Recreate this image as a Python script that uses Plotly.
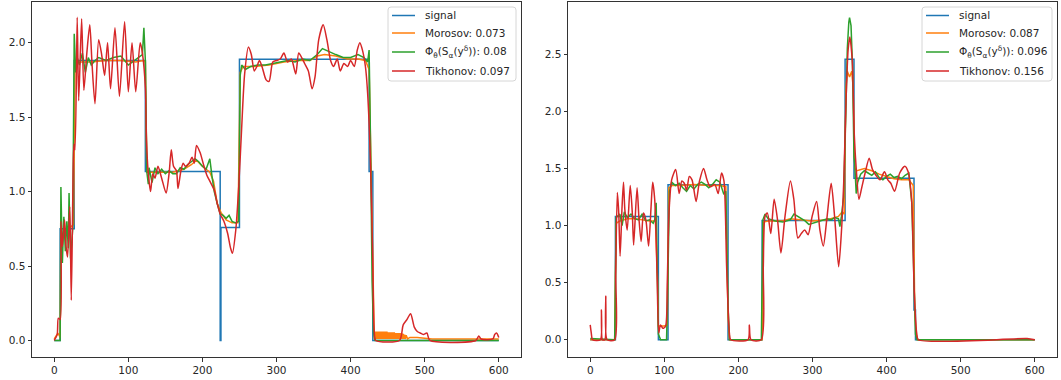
import plotly.graph_objects as go

# ---------------- data: left panel ----------------
L_sig_x = [0, 8, 27, 123, 224, 225, 250, 425, 430, 600]
L_sig_y = [0, 0.75, 1.88, 1.135, 0, 0.758, 1.888, 1.135, 0, 0]

L_mor_x = [0, 5, 8, 9, 15, 22, 26, 28, 35, 50, 70, 90, 110, 120, 123, 125, 140, 160, 175, 185, 192, 200,
           210, 215, 220, 225, 232, 240, 248, 251, 255, 270, 290, 310, 330, 345, 355, 365, 380, 395, 410,
           420, 425, 428, 431,
           432, 433, 434, 435, 436, 437, 438, 439, 440, 441, 442, 443, 444, 445, 446, 447, 448, 449, 450,
           451, 452, 453, 454, 455, 456, 457, 458, 459, 460, 461, 462, 463, 464, 465, 466, 467, 468, 469,
           470, 471, 472, 473, 474, 475, 477, 480, 490, 510, 600]
L_mor_y = [0.01, 0.05, 0.02, 0.70, 0.74, 0.76, 0.78, 1.86, 1.87, 1.87, 1.88, 1.88, 1.87, 1.88, 1.87, 1.13,
           1.13, 1.13, 1.15, 1.18, 1.21, 1.17, 1.13, 1.07, 0.92, 0.86, 0.81, 0.79, 0.79, 1.80, 1.84, 1.84,
           1.85, 1.87, 1.88, 1.88, 1.91, 1.92, 1.91, 1.89, 1.89, 1.88, 1.82, 1.0, 0.06,
           0.01, 0.06, 0.01, 0.06, 0.01, 0.06, 0.01, 0.06, 0.01, 0.06, 0.01, 0.06, 0.01, 0.06, 0.01, 0.06,
           0.01, 0.06, 0.01, 0.055, 0.01, 0.055, 0.01, 0.055, 0.01, 0.055, 0.01, 0.055, 0.01, 0.05, 0.01,
           0.05, 0.01, 0.05, 0.01, 0.05, 0.01, 0.05, 0.01, 0.045, 0.01, 0.04, 0.01, 0.035, 0.01, 0.02,
           0.02, 0.01, 0.01, 0.0]

L_phi_x = [0, 8, 9, 11, 13, 15, 17, 19, 20, 22, 25, 27, 29, 31, 34, 38, 42, 46, 50, 55, 60, 70, 80, 90,
           100, 108, 114, 119, 121, 123, 125, 127, 128, 132, 136, 140, 145, 150, 155, 160, 165, 170, 175,
           180, 185, 190, 195, 200, 205, 210, 213, 216, 220, 224, 228, 232, 236, 240, 245, 249, 251, 253,
           258, 265, 275, 285, 295, 305, 315, 325, 335, 345, 355, 362, 370, 380, 390, 400, 410, 418, 423,
           425, 427, 429, 431, 433, 600]
L_phi_y = [0, 0, 1.03, 0.52, 0.83, 0.60, 0.80, 0.62, 0.99, 0.55, 0.75, 2.06, 1.80, 1.90, 1.85, 1.93, 1.80,
           1.90, 1.85, 1.88, 1.90, 1.88, 1.90, 1.91, 1.85, 1.88, 1.90, 1.92, 2.10, 1.88, 1.13, 1.05, 1.16,
           1.06, 1.16, 1.12, 1.15, 1.12, 1.14, 1.12, 1.12, 1.16, 1.15, 1.18, 1.20, 1.22, 1.20, 1.17, 1.15,
           1.22, 1.10, 1.0, 0.92, 0.85, 0.84, 0.82, 0.84, 0.80, 0.79, 0.80, 1.78, 1.85, 1.82, 1.84, 1.85,
           1.85, 1.86, 1.87, 1.88, 1.87, 1.89, 1.88, 1.92, 1.96, 1.94, 1.92, 1.90, 1.90, 1.92, 1.90, 1.87,
           1.95, 1.3, 0.4, 0.05, 0.0, 0.0]

L_tik_x = [0, 4, 5.5, 8, 9, 11, 14, 16, 18, 21, 23, 25, 26.5, 28, 31, 33, 37, 40, 44, 48, 51, 55, 60, 64,
           68, 72, 76, 82, 88, 95, 100, 105, 110, 116, 119, 123, 124.5, 127, 130, 133, 136, 140, 145, 151,
           155, 158, 161, 165, 167, 171, 174, 177, 182, 186, 189, 192, 197, 201, 206, 210, 216, 220, 224,
           229, 234, 238, 240.5, 245, 249, 253, 257, 262, 266, 270, 273.5, 277, 281, 286, 290, 295, 300,
           305, 310, 315, 320, 326, 330, 335, 338, 343, 348, 352, 357, 363, 368, 373, 377, 382, 386, 391,
           396, 400, 405, 409, 412.5, 416, 420, 423, 427, 430, 432, 434, 466, 471, 476, 481, 486, 490,
           494, 498, 503, 507, 569, 573, 576, 592, 594.5, 597, 600]
L_tik_y = [0.0, 0.04, 0.15, 0.14, 0.80, 0.63, 0.81, 0.63, 0.56, 0.90, 0.27, 0.94, 1.32, 1.28, 2.17, 1.61,
           2.16, 1.68, 1.93, 2.12, 1.86, 1.59, 2.02, 1.92, 1.78, 2.0, 1.69, 2.10, 1.64, 2.14, 1.67, 2.0,
           1.67, 2.0, 1.93, 1.70, 1.345, 1.12, 1.0, 1.12, 1.09, 1.17, 1.09, 0.99, 1.12, 1.28, 1.17, 1.14,
           1.02, 1.14, 1.19, 1.17, 1.19, 1.23, 1.19, 1.31, 1.26, 1.19, 1.11, 1.07, 1.01, 0.92, 0.85, 0.80,
           0.72, 0.62, 0.585, 0.74, 1.03, 1.43, 1.79, 1.97, 1.92, 1.81, 1.84, 1.88, 1.83, 1.75, 1.74, 1.87,
           1.88, 1.89, 1.93, 1.87, 1.89, 1.79, 1.93, 1.89, 1.86, 1.81, 1.69, 1.77, 2.02, 2.12, 2.02, 1.88,
           1.84, 1.89, 1.81, 1.86, 1.84, 1.88, 1.84, 1.95, 2.0, 1.95, 1.84, 1.66, 1.17, 0.50, 0.05, 0.0,
           0.0, 0.105, 0.14, 0.18, 0.09, 0.06, 0.05, 0.04, 0.05, 0.0, 0.0, 0.03, 0.01, 0.01, 0.04, 0.05,
           0.02]

# ---------------- data: right panel ----------------
R_sig_x = [0, 34, 92, 105, 186, 232, 344, 356, 437, 439, 600]
R_sig_y = [0, 1.08, 0, 1.356, 0, 1.044, 2.456, 1.415, 0.26, 0, 0]

R_mor_x = [0, 33, 35, 40, 50, 60, 70, 80, 88, 91, 92, 100, 104, 106, 110, 120, 140, 160, 175, 183, 186,
           188, 232, 234, 240, 260, 270, 285, 300, 320, 335, 340, 343, 345, 347, 350, 353, 355, 357, 360,
           370, 380, 390, 400, 410, 420, 430, 436, 438, 440, 442, 600]
R_mor_y = [0.0, 0.0, 1.02, 1.04, 1.06, 1.06, 1.05, 1.04, 1.04, 0.5, 0.12, 0.12, 0.13, 1.33, 1.35, 1.35,
           1.36, 1.35, 1.35, 1.34, 0.2, 0.0, 0.0, 1.03, 1.04, 1.04, 1.06, 1.05, 1.04, 1.05, 1.08, 1.12,
           1.10, 2.2, 2.35, 2.30, 2.35, 2.20, 1.50, 1.48, 1.50, 1.48, 1.45, 1.43, 1.41, 1.40, 1.40, 1.35,
           0.25, 0.05, 0.0, 0.0]

R_phi_x = [0, 33, 35, 40, 43, 46, 50, 55, 60, 65, 70, 75, 80, 85, 87, 89, 92, 95, 103, 104, 107, 110,
           115, 120, 125, 130, 135, 140, 145, 150, 155, 160, 165, 170, 175, 180, 183, 186, 188, 231, 233,
           236, 240, 250, 260, 270, 275, 280, 285, 290, 295, 300, 305, 310, 315, 320, 325, 330, 335, 337,
           339, 342, 345, 347, 349, 350, 352, 354, 356, 357, 359, 361, 365, 370, 375, 380, 385, 390, 395,
           400, 405, 410, 415, 420, 425, 430, 434, 437, 439, 441, 600]
R_phi_y = [0.01, 0.0, 1.07, 1.10, 1.0, 1.12, 1.07, 1.10, 1.06, 1.05, 1.10, 1.04, 1.05, 1.02, 1.05, 1.20,
           0.05, 0.0, 0.0, 0.25, 1.30, 1.38, 1.35, 1.37, 1.33, 1.30, 1.35, 1.32, 1.36, 1.38, 1.36, 1.33,
           1.36, 1.40, 1.38, 1.28, 1.30, 0.3, 0.0, 0.0, 1.05, 1.10, 1.06, 1.04, 1.03, 1.05, 1.10, 1.08, 1.06,
           1.04, 1.01, 1.02, 1.03, 1.04, 1.05, 1.06, 1.05, 1.07, 1.06, 0.99, 1.08, 1.25, 2.0, 2.55, 2.78,
           2.82, 2.75, 2.40, 1.60, 1.54, 1.28, 1.38, 1.45, 1.48, 1.46, 1.44, 1.47, 1.42, 1.40, 1.43, 1.45,
           1.42, 1.43, 1.41, 1.44, 1.46, 1.20, 0.4, 0.05, 0.0, 0.0]

R_tik_x = [0, 1.4, 3.2, 13.7, 15.1, 16.5, 19.7, 21, 22.9, 33, 34.4, 36.6, 38.5, 40.3, 43, 44.9, 46.7, 49.9,
           54, 56.8, 58.6, 63.2, 65.9, 68.7, 71.9, 75.1, 78.8, 82, 84.3, 87, 90.2, 92.5, 94.8, 98, 101.7,
           104, 106.3, 109.9, 115.4, 120, 123.7, 126.9, 130.1, 133.7, 137.4, 142.9, 147.5, 153, 157.6,
           162.1, 168.1, 172.7, 177.2, 180.5, 184.1, 187.8, 189.6, 213, 214.8, 217, 230.8, 233.6, 235.9,
           239.1, 243.7, 248.2, 252.8, 257.4, 262.9, 270.2, 274.8, 280.3, 284.9, 289.5, 294, 299.5, 305.5,
           310, 314.6, 319.2, 325.2, 329.8, 335.3, 338.9, 342.1, 345.3, 348.1, 350.4, 353.6, 356.3, 359.1,
           362.7, 366.4, 371, 376.5, 381, 385.6, 391.1, 397.1, 401.7, 405.7, 410.8, 417.7, 424.6, 429.1,
           433.7, 437.4, 440.6, 443, 589.5, 600]
R_tik_y = [0.13, 0.06, 0.0, 0.0, 0.26, 0.0, 0.0, 0.38, 0.0, 0.0, 0.58, 1.29, 1.11, 0.73, 1.17, 1.38, 1.14,
           0.96, 1.35, 1.11, 0.83, 1.33, 1.05, 0.86, 1.11, 1.05, 0.82, 1.15, 1.38, 1.23, 0.58, 0.06, 0.13,
           0.10, 0.12, 0.50, 1.11, 1.40, 1.49, 1.28, 1.39, 1.37, 1.31, 1.43, 1.40, 1.21, 1.39, 1.50, 1.40,
           1.34, 1.36, 1.28, 1.46, 1.39, 0.64, 0.06, 0.0, 0.0, 0.13, 0.0, 0.0, 0.64, 1.08, 1.11, 0.93, 1.23,
           1.05, 0.76, 1.08, 1.39, 1.23, 0.89, 0.93, 0.96, 0.92, 1.08, 1.21, 0.96, 0.82, 1.05, 1.37, 1.08,
           0.64, 0.93, 1.37, 2.10, 2.54, 2.65, 2.45, 1.81, 1.49, 1.23, 1.33, 1.46, 1.59, 1.49, 1.44, 1.40,
           1.47, 1.40, 1.37, 1.30, 1.46, 1.52, 1.47, 1.23, 0.41, 0.06, 0.0, 0.01, 0.0]

L_labels = ["signal", "Morosov: 0.073", "Φ<sub>θ</sub>(S<sub>α</sub>(y<sup>δ</sup>)): 0.08", "Tikhonov: 0.097"]
R_labels = ["signal", "Morosov: 0.087", "Φ<sub>θ</sub>(S<sub>α</sub>(y<sup>δ</sup>)): 0.096", "Tikhonov: 0.156"]
x_ticks = [0, 100, 200, 300, 400, 500, 600]
L_yticks = [0.0, 0.5, 1.0, 1.5, 2.0]
R_yticks = [0.0, 0.5, 1.0, 1.5, 2.0, 2.5]

colors = ["#1f77b4", "#ff7f0e", "#2ca02c", "#d62728"]

W, H = 1061, 380
ML, MR, MT, MB = 32, 4, 2, 23
PW, PH = W - ML - MR, H - MT - MB


def px(xp):
    return (xp - ML) / PW


def py(yp):
    return (H - MB - yp) / PH


fig = go.Figure()


def add_panel(series, labels, xa, ya):
    for i, ((xs, ys), lab) in enumerate(zip(series, labels)):
        if i == 0:
            line = dict(color=colors[i], width=1.5, shape="hv")
        elif i == 3:
            line = dict(color=colors[i], width=1.5, shape="spline", smoothing=0.7)
        else:
            line = dict(color=colors[i], width=1.5, shape="linear")
        fig.add_trace(go.Scatter(x=xs, y=ys, mode="lines", name=lab, line=line,
                                 xaxis=xa, yaxis=ya, showlegend=False))


add_panel([(L_sig_x, L_sig_y), (L_mor_x, L_mor_y), (L_phi_x, L_phi_y), (L_tik_x, L_tik_y)],
          L_labels, "x", "y")
add_panel([(R_sig_x, R_sig_y), (R_mor_x, R_mor_y), (R_phi_x, R_phi_y), (R_tik_x, R_tik_y)],
          R_labels, "x2", "y2")

shapes, annotations = [], []


def legend_box(left, right, top, bottom, labels):
    r = 3
    x0, x1, y0, y1 = px(left), px(right), py(bottom), py(top)
    rx, ry = r / PW, r / PH
    path = (f"M{x0 + rx},{y1} L{x1 - rx},{y1} Q{x1},{y1} {x1},{y1 - ry} "
            f"L{x1},{y0 + ry} Q{x1},{y0} {x1 - rx},{y0} L{x0 + rx},{y0} "
            f"Q{x0},{y0} {x0},{y0 + ry} L{x0},{y1 - ry} Q{x0},{y1} {x0 + rx},{y1} Z")
    shapes.append(dict(type="path", path=path, xref="paper", yref="paper", layer="above",
                       fillcolor="rgba(255,255,255,0.8)", line=dict(color="#d6d6d6", width=1)))
    rows = [15.5, 33, 52, 71]
    for i, lab in enumerate(labels):
        yy = top + rows[i] - 7
        shapes.append(dict(type="line", xref="paper", yref="paper", layer="above",
                           x0=px(left + 4), x1=px(left + 27), y0=py(yy), y1=py(yy),
                           line=dict(color=colors[i], width=1.5)))
        annotations.append(dict(text=lab, xref="paper", yref="paper", x=px(left + 35), y=py(yy),
                                xanchor="left", yanchor="middle", showarrow=False,
                                font=dict(family="DejaVu Sans", size=10.5, color="#262626")))


legend_box(388, 516, 7, 81, L_labels)
legend_box(922, 1052, 7, 81, R_labels)

font = dict(family="DejaVu Sans", size=10.5, color="#262626")
axcommon = dict(showgrid=False, zeroline=False, showline=True, mirror=True, linecolor="#333333",
                linewidth=1, ticks="outside", ticklen=3.5, tickwidth=0.8, tickcolor="#333333",
                tickfont=font)

fig.update_layout(
    width=W, height=H,
    margin=dict(l=ML, r=MR, t=MT, b=MB),
    paper_bgcolor="white", plot_bgcolor="white",
    showlegend=False,
    xaxis=dict(domain=[0, px(521)], range=[-30, 630], tickvals=x_ticks, **axcommon),
    yaxis=dict(domain=[0, 1], range=[-0.111, 2.273], tickvals=L_yticks, tickformat=".1f", **axcommon),
    xaxis2=dict(domain=[px(568), 1], range=[-30, 630], tickvals=x_ticks, anchor="y2", **axcommon),
    yaxis2=dict(domain=[0, 1], range=[-0.151, 2.957], tickvals=R_yticks, tickformat=".1f",
                anchor="x2", **axcommon),
    shapes=shapes,
    annotations=annotations,
)

fig.write_html("out.html", config={"displayModeBar": False},
               post_script="document.body.style.margin='0';document.body.style.overflow='hidden';")
